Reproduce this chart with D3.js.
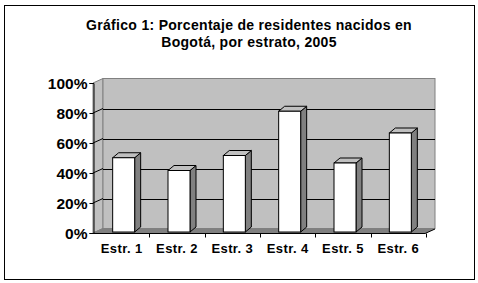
<!DOCTYPE html>
<html>
<head>
<meta charset="utf-8">
<script src="https://cdn.jsdelivr.net/npm/d3@7"></script>
<style>
  body { margin: 0; background: #fff; }
  text { font-family: "Liberation Sans", Arial, sans-serif; font-weight: bold; }
</style>
</head>
<body>
<svg id="chart"></svg>
<script>
var estratos = ["Estr. 1", "Estr. 2", "Estr. 3", "Estr. 4", "Estr. 5", "Estr. 6"];
var porcentajes = [49.5, 41, 51, 80.5, 46, 66];
var yTicks = [0, 20, 40, 60, 80, 100];
var titulo = ["Gráfico 1: Porcentaje de residentes nacidos en", "Bogotá, por estrato, 2005"];

var width = 478, height = 283;
// profundidad de la pared y de las barras
var wallDX = 10, wallDY = -4.5;
var barDX = 2, barDY = -1, barW = 22, barDepthX = 6, barDepthY = -5;

var svg = d3.select("#chart")
  .attr("width", width)
  .attr("height", height);

svg.append("rect")
  .attr("x", 4.5).attr("y", 5.5)
  .attr("width", 470).attr("height", 274)
  .attr("fill", "#fff")
  .attr("stroke", "#000");

svg.selectAll(".titulo")
  .data(titulo)
  .enter()
  .append("text")
  .attr("class", "titulo")
  .attr("x", 249)
  .attr("y", (d, i) => 30 + i * 17)
  .attr("text-anchor", "middle")
  .style("font-size", "14px")
  .style("letter-spacing", "0.3px")
  .text(d => d);

var x = d3.scaleBand()
  .domain(estratos)
  .range([94, 426]);

var y = d3.scaleLinear()
  .domain([0, 100])
  .range([233, 83]);

var x0 = 93, x1 = 425;

// pared lateral
svg.append("polygon")
  .attr("points", [[x0, y(100)], [x0 + wallDX, y(100) + wallDY], [x0 + wallDX, y(0) + wallDY], [x0, y(0)]].join(" "))
  .attr("fill", "#c0c0c0")
  .attr("stroke", "#808080")
  .attr("stroke-width", 1);

// pared de fondo
svg.append("rect")
  .attr("x", x0 + wallDX)
  .attr("y", y(100) + wallDY)
  .attr("width", x1 - x0)
  .attr("height", y(0) - y(100))
  .attr("fill", "#c0c0c0")
  .attr("stroke", "#808080")
  .attr("stroke-width", 1);

// piso
svg.append("polygon")
  .attr("points", [[x0, y(0)], [x1, y(0)], [x1 + wallDX, y(0) + wallDY], [x0 + wallDX, y(0) + wallDY]].join(" "))
  .attr("fill", "#808080")
  .attr("stroke", "#808080");

// lineas de division
var grid = svg.append("g").attr("stroke", "#000").attr("stroke-width", 1);
yTicks.filter(t => t > 0 && t < 100).forEach(t => {
  grid.append("line")
    .attr("x1", x0 + wallDX).attr("x2", x1 + wallDX)
    .attr("y1", Math.round(y(t) + wallDY) + 0.5).attr("y2", Math.round(y(t) + wallDY) + 0.5);
  grid.append("line")
    .attr("x1", x0).attr("x2", x0 + wallDX)
    .attr("y1", y(t)).attr("y2", y(t) + wallDY);
});

// barras
var bars = svg.selectAll(".barra")
  .data(porcentajes)
  .enter()
  .append("g")
  .attr("class", "barra");

function barLeft(i) {
  return x(estratos[i]) + x.bandwidth() / 2 - barW / 2 + barDX;
}
function barTop(d) {
  return y(d) + barDY;
}
var baseY = y(0) + barDY;

bars.append("polygon")
  .attr("points", (d, i) => {
    var l = barLeft(i) + barW, t = barTop(d);
    return [[l, t], [l + barDepthX, t + barDepthY], [l + barDepthX, baseY + barDepthY], [l, baseY]].join(" ");
  })
  .attr("fill", "#808080")
  .attr("stroke", "#000")
  .attr("stroke-linejoin", "round");

bars.append("polygon")
  .attr("points", (d, i) => {
    var l = barLeft(i), t = barTop(d);
    return [[l, t], [l + barDepthX, t + barDepthY], [l + barW + barDepthX, t + barDepthY], [l + barW, t]].join(" ");
  })
  .attr("fill", "#c0c0c0")
  .attr("stroke", "#000")
  .attr("stroke-linejoin", "round");

bars.append("rect")
  .attr("x", (d, i) => barLeft(i))
  .attr("y", d => barTop(d))
  .attr("width", barW)
  .attr("height", d => baseY - barTop(d))
  .attr("fill", "#fff")
  .attr("stroke", "#000");

// ejes
var yAxis = svg.append("g")
  .attr("transform", "translate(" + (x0 + 0.5) + ",0)")
  .call(d3.axisLeft(y).tickValues(yTicks).tickSize(4).tickPadding(2).tickFormat(d => d + "%"));
yAxis.selectAll("text").style("font-size", "15.5px").attr("fill", "#000").attr("dy", "0.36em");
yAxis.select(".domain").attr("stroke", "#000");

var xAxis = svg.append("g")
  .attr("transform", "translate(0," + (y(0) + 0.5) + ")")
  .call(d3.axisBottom(x).tickSize(0).tickPadding(10));
xAxis.select(".domain").remove();
xAxis.selectAll("text").style("font-size", "13px").style("letter-spacing", "0.4px").attr("fill", "#000");

xAxis.append("line")
  .attr("x1", x0).attr("x2", x1)
  .attr("stroke", "#000");
xAxis.selectAll(".sep")
  .data(estratos.slice(1).concat(["fin"]))
  .enter()
  .append("line")
  .attr("class", "sep")
  .attr("x1", (d, i) => Math.round(x.range()[0] + x.step() * (i + 1)) + 0.5)
  .attr("x2", (d, i) => Math.round(x.range()[0] + x.step() * (i + 1)) + 0.5)
  .attr("y1", 0).attr("y2", 4)
  .attr("stroke", "#000");
xAxis.append("line")
  .attr("x1", x1).attr("y1", 0)
  .attr("x2", x1 + wallDX).attr("y2", wallDY)
  .attr("stroke", "#000");
</script>
</body>
</html>
